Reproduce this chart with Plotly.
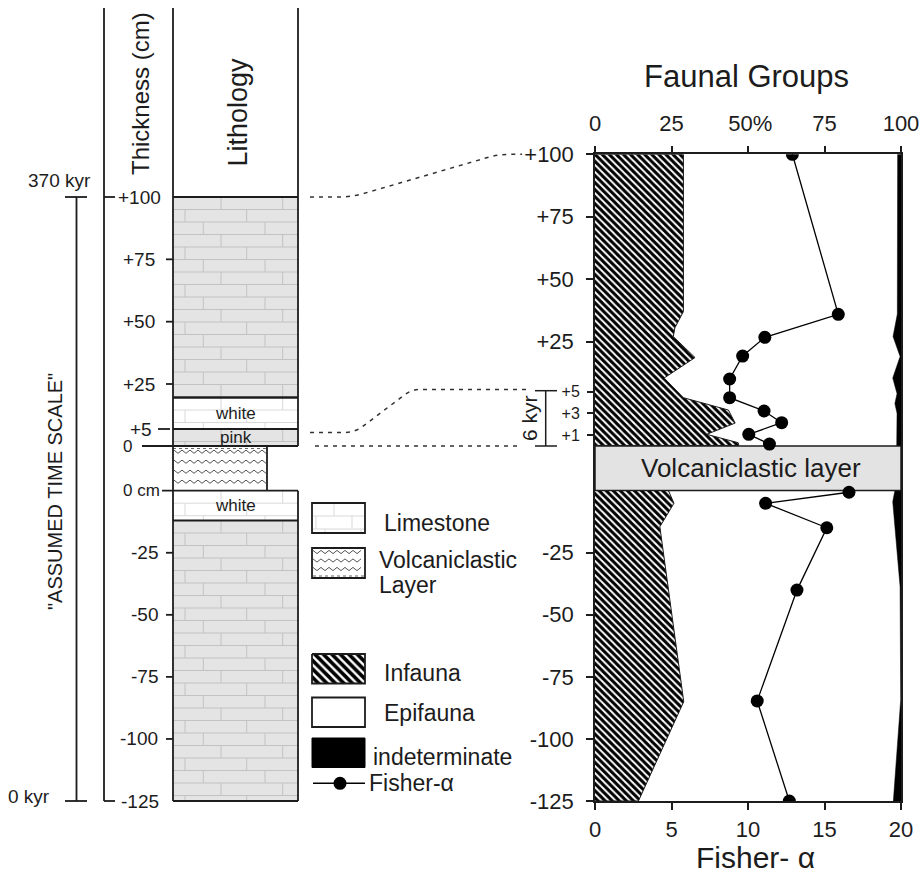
import numpy as np
import plotly.graph_objects as go

W, H = 924, 875
FONT = "Liberation Sans, Arial, Helvetica, sans-serif"
INK = "#1c1c1c"

# ---------------------------------------------------------------- data
# Fisher-alpha (depth in cm relative to the volcaniclastic layer)
fisher_depth_above = [100, 35.9, 26.7, 19.2, 10.0, 4.43, 3.21, 2.14, 1.07, 0.18]
fisher_alpha_above = [12.9, 15.9, 11.1, 9.65, 8.8, 8.8, 11.05, 12.2, 10.05, 11.4]
fisher_depth_below = [-0.7, -5.15, -15.0, -40.1, -84.7, -125]
fisher_alpha_below = [16.6, 11.15, 15.15, 13.2, 10.6, 12.7]

# Infauna (% of assemblage)
infauna_depth_above = [100, 37, 30.5, 27, 18.6, 10.4, 4.43, 3.3, 2.1, 1.07, 0.3, 0.05]
infauna_pct_above = [28.9, 28.9, 26.1, 25.6, 32.7, 22.6, 28.9, 43.6, 45.8, 36.5, 46.8, 47.0]
infauna_depth_below = [0, -5.15, -14.6, -85, -125]
infauna_pct_below = [24.0, 25.8, 21.2, 29.0, 14.2]

# indeterminate (% of assemblage, drawn from the 100 % side)
indet_depth_above = [100, 36, 29.7, 27, 19, 10.4, 4.8, 3.9, 3.0, 0]
indet_pct_above = [1.1, 1.2, 2.3, 2.6, 0.3, 2.7, 1.3, 2.0, 1.3, 1.4]
indet_depth_below = [0, -4.5, -38.7, -84.3, -125]
indet_pct_below = [2.0, 2.7, 0.3, 0.1, 2.5]

depth_ticks_above = [100, 75, 50, 25]
depth_labels_above = ["+100", "+75", "+50", "+25"]
depth_ticks_below = [-25, -50, -75, -100, -125]
depth_labels_below = ["-25", "-50", "-75", "-100", "-125"]
fine_ticks = [5, 3, 1]
fine_labels = ["+5", "+3", "+1"]
fisher_ticks = [0, 5, 10, 15, 20]
pct_ticks = [0, 25, 50, 75, 100]
pct_labels = ["0", "25", "\u200950%", "75", "100"]

# lithology column (top, bottom in cm, kind, label, section)
litho_layers = [
    (100, 19, "limestone", "", "above"),
    (19, 5, "white", "white", "above"),
    (5, 0, "pink", "pink", "above"),
    (0, -12, "white", "white", "below"),
    (-12, -125, "limestone", "", "below"),
]
litho_ticks_above = [100, 75, 50, 25, 5, 0]
litho_labels_above = ["+100", "+75", "+50", "+25", "+5", "0"]
litho_ticks_below = [0, -25, -50, -75, -100, -125]
litho_labels_below = ["0 cm", "-25", "-50", "-75", "-100", "-125"]

# ------------------------------------------------- broken depth scales
# depth (cm) -> vertical page position (px from top); the section is
# broken at the volcaniclastic layer and the top 5 cm are expanded.
R_ABOVE = ([0, 5, 100], [446, 391.5, 154.3])
R_BELOW = ([-125, 0], [801, 490.5])
L_ABOVE = ([0, 5, 25, 100], [446, 429, 384, 197])
L_BELOW = ([-125, 0], [801, 490.7])


def pos(scale, d):
    return np.interp(np.asarray(d, float), scale[0], scale[1]).tolist()


fig = go.Figure()

# ------------------------------------------------------- right panel
PANEL_TOP = pos(R_ABOVE, 100)
PANEL_BOT = pos(R_BELOW, -125)
band_top = pos(R_ABOVE, 0)
band_bot = pos(R_BELOW, 0)

hatch = dict(shape="\\", fgcolor="black", bgcolor="white", size=5, solidity=0.6)

for d, p, sc in [(infauna_depth_above, infauna_pct_above, R_ABOVE),
                 (infauna_depth_below, infauna_pct_below, R_BELOW)]:
    ys = pos(sc, d)
    fig.add_trace(go.Scatter(
        x=[0] + p + [0], y=[ys[0]] + ys + [ys[-1]], mode="lines",
        fill="toself", fillcolor="white", fillpattern=hatch,
        line=dict(color=INK, width=1), xaxis="x", yaxis="y",
        hoverinfo="skip", showlegend=False))

for d, p, sc in [(indet_depth_above, indet_pct_above, R_ABOVE),
                 (indet_depth_below, indet_pct_below, R_BELOW)]:
    ys = pos(sc, d)
    fig.add_trace(go.Scatter(
        x=[100] + [100 - v for v in p] + [100], y=[ys[0]] + ys + [ys[-1]],
        mode="lines", fill="toself", fillcolor="black",
        line=dict(color="black", width=0.5), xaxis="x", yaxis="y",
        hoverinfo="skip", showlegend=False))

# volcaniclastic band
fig.add_trace(go.Scatter(
    x=[0, 100, 100, 0, 0], y=[band_top, band_top, band_bot, band_bot, band_top],
    mode="lines", fill="toself", fillcolor="#e3e3e3",
    line=dict(color=INK, width=1.5), xaxis="x", yaxis="y",
    hoverinfo="skip", showlegend=False))

# Fisher-alpha
fig.add_trace(go.Scatter(
    x=fisher_alpha_above + [None] + fisher_alpha_below,
    y=pos(R_ABOVE, fisher_depth_above) + [None] + pos(R_BELOW, fisher_depth_below),
    mode="lines+markers", line=dict(color="black", width=1.3),
    marker=dict(size=13, color="black"), xaxis="x2", yaxis="y",
    connectgaps=False, hoverinfo="skip", showlegend=False))

# dummy trace so the fine-tick overlay axis is drawn
fig.add_trace(go.Scatter(x=[None], y=[None], xaxis="x", yaxis="y2",
                         showlegend=False, hoverinfo="skip"))

# ------------------------------------------------------ left column
shapes = []
annos = []


def line(x0, y0, x1, y1, w=1.8, color=INK, dash=None):
    s = dict(type="line", xref="x3", yref="y3", x0=x0, y0=y0, x1=x1, y1=y1,
             line=dict(color=color, width=w), layer="above")
    if dash:
        s["line"]["dash"] = dash
    shapes.append(s)


def rect(x0, y0, x1, y1, fill, lw=0, lc=INK, layer="below"):
    shapes.append(dict(type="rect", xref="x3", yref="y3", x0=x0, y0=y0,
                       x1=x1, y1=y1, fillcolor=fill, layer=layer,
                       line=dict(color=lc, width=lw)))


def text(x, y, s, size, xanchor="center", angle=0, color=INK, yanchor="middle",
         borderpad=1):
    annos.append(dict(x=x, y=y, xref="x3", yref="y3", text=s, showarrow=False,
                      xanchor=xanchor, yanchor=yanchor, textangle=angle,
                      borderpad=borderpad,
                      font=dict(size=size, color=color, family=FONT)))


def bricks(x0, x1, y0, y1, row=12.5, period=61.7, offsets=(48, 12, 30.3)):
    xs, ys = [], []
    y, i = y0, 0
    while y < y1 - 0.5:
        yb = min(y + row, y1)
        xv = x0 + offsets[i % 3]
        while xv < x1 - 1:
            xs += [xv, xv, None]
            ys += [y, yb, None]
            xv += period
        if yb < y1 - 0.5:
            xs += [x0, x1, None]
            ys += [yb, yb, None]
        y, i = yb, i + 1
    return xs, ys


def zigzag(x0, x1, y, period=8.0, amp=1.6):
    xs = np.arange(x0, x1 + 0.01, period / 2).tolist()
    ys = [y + (amp if k % 2 else -amp) for k in range(len(xs))]
    return xs, ys


LX0, LX1 = 173, 298
gray_x, gray_y, light_x, light_y = [], [], [], []
for top, bot, kind, lab, sec in litho_layers:
    sc = L_ABOVE if sec == "above" else L_BELOW
    y0, y1 = pos(sc, top), pos(sc, bot)
    fill = "white" if kind == "white" else "#e4e4e4"
    rect(LX0, y0, LX1, y1, fill)
    bx, by = bricks(LX0, LX1, y0, y1)
    if kind == "white":
        light_x += bx; light_y += by
    else:
        gray_x += bx; gray_y += by
    if lab:
        text((LX0 + LX1) / 2, (y0 + y1) / 2, lab, 17)
    line(LX0, y1, LX1, y1, w=1.8)

# limestone legend box bricks
lbx, lby = bricks(312, 365, 503, 533, row=13, period=36, offsets=(22, 4, 13))
light_x += lbx; light_y += lby

fig.add_trace(go.Scatter(x=gray_x, y=gray_y, mode="lines",
                         line=dict(color="#c2c2c2", width=1), xaxis="x3",
                         yaxis="y3", hoverinfo="skip", showlegend=False))
fig.add_trace(go.Scatter(x=light_x, y=light_y, mode="lines",
                         line=dict(color="#d9d9d9", width=1), xaxis="x3",
                         yaxis="y3", hoverinfo="skip", showlegend=False))

# volcaniclastic layer in the column + legend
v_top, v_bot = pos(L_ABOVE, 0), pos(L_BELOW, 0)
rect(LX0, v_top, 267, v_bot, "white")
zx, zy = [], []
for yy in [451.7, 461.7, 471.7, 481.7]:
    a, b = zigzag(LX0 + 1, 266, yy)
    zx += a + [None]; zy += b + [None]
for yy in [552, 560.5, 569]:
    a, b = zigzag(313, 364, yy)
    zx += a + [None]; zy += b + [None]
fig.add_trace(go.Scatter(x=zx, y=zy, mode="lines",
                         line=dict(color="#555555", width=1), xaxis="x3",
                         yaxis="y3", hoverinfo="skip", showlegend=False))
line(LX0, v_top + 2.5, 267, v_top + 2.5, w=1.2, color="#666", dash="dot")
line(313, 576, 364, 576, w=1.2, color="#666", dash="dot")
line(267, v_top, 267, v_bot, w=1.8)

# column frame
line(104, 8, 104, 801)
line(104, 801, 115, 801)
line(104, pos(L_ABOVE, 100), 115, pos(L_ABOVE, 100))
line(LX0, 8, LX0, 801)
line(LX1, 8, LX1, pos(L_ABOVE, 0))
line(LX1, v_bot, LX1, 801)
line(LX0, pos(L_ABOVE, 100), LX1, pos(L_ABOVE, 100))
line(LX0, pos(L_ABOVE, 19), LX1, pos(L_ABOVE, 19))
line(142, pos(L_ABOVE, 0), LX1, pos(L_ABOVE, 0))
line(162, v_bot, LX1, v_bot)

# thickness ticks + labels
for d, lab in zip(litho_ticks_above, litho_labels_above):
    y = pos(L_ABOVE, d)
    if d == 100:
        text(163, y, lab, 19, "right")
    elif d == 0:
        text(127, y, lab, 17)
    elif d == 5:
        line(158, y, 170, y)
        text(154, y, lab, 19, "right")
    else:
        line(166, y, LX0, y)
        text(157, y, lab, 19, "right")
for d, lab in zip(litho_ticks_below, litho_labels_below):
    y = pos(L_BELOW, d)
    if d == 0:
        text(162, y, lab, 17, "right")
    elif d == -125:
        text(161, y, lab, 19, "right")
    else:
        line(166, y, LX0, y)
        text(160, y, lab, 19, "right")

text(140, 94, "Thickness (cm)", 24, angle=-90)
text(237.5, 112, "Lithology", 27, angle=-90)

# assumed time scale
ts_top, ts_bot = pos(L_ABOVE, 100), pos(L_BELOW, -125)
line(65, ts_top, 87, ts_top)
line(65, ts_bot, 87, ts_bot)
line(76.5, ts_top, 76.5, ts_bot)
text(59, 180, "370 kyr", 19)
text(29, 796, "0 kyr", 19)
text(55, 492, "\"ASSUMED TIME SCALE\"", 20, angle=-90)

# connectors (dashed)
DASH = "4px,5px"
y100L, y100R = pos(L_ABOVE, 100), pos(R_ABOVE, 100)
y5L, y5R = pos(L_ABOVE, 5) + 3.5, pos(R_ABOVE, 5) - 2
y0L = pos(L_ABOVE, 0)
shapes.append(dict(type="path", xref="x3", yref="y3", layer="above",
                   path=f"M310,{y100L} L338,{y100L} Q350,{y100L} 362,{y100L-3} "
                        f"L490,{y100R+2.5} Q500,{y100R} 510,{y100R} L522,{y100R}",
                   line=dict(color="#333", width=1.5, dash=DASH)))
shapes.append(dict(type="path", xref="x3", yref="y3", layer="above",
                   path=f"M310,{y5L} L344,{y5L} Q352,{y5L} 360,{y5L-4} "
                        f"L405,{y5R+5} Q412,{y5R} 420,{y5R} L528,{y5R}",
                   line=dict(color="#333", width=1.5, dash=DASH)))
shapes.append(dict(type="line", xref="x3", yref="y3", layer="above",
                   x0=315, y0=y0L, x1=522, y1=y0L,
                   line=dict(color="#333", width=1.5, dash=DASH)))

# 6 kyr bracket
b_top, b_bot = pos(R_ABOVE, 5) - 0.8, pos(R_ABOVE, 0)
line(545.7, b_top, 545.7, b_bot, w=1.5)
line(535, b_top, 557, b_top, w=1.5)
line(535, b_bot, 557, b_bot, w=1.5)
text(529, 418, "6 kyr", 21, angle=-90)

# ----------------------------------------------------------- legend
rect(312, 503, 365, 533, "rgba(0,0,0,0)", lw=1.8, layer="above")
rect(312, 548, 365, 578, "rgba(0,0,0,0)", lw=1.8, layer="above")
rect(312, 548, 365, 578, "white")
rect(312, 503, 365, 533, "white")
fig.add_trace(go.Scatter(
    x=[312, 365, 365, 312, 312], y=[654, 654, 683.5, 683.5, 654], mode="lines",
    fill="toself", fillcolor="white",
    fillpattern=dict(shape="\\", fgcolor="black", bgcolor="white", size=6, solidity=0.6),
    line=dict(color=INK, width=1.8), xaxis="x3", yaxis="y3",
    hoverinfo="skip", showlegend=False))
rect(312, 697.5, 365, 727, "white", lw=1.8, layer="above")
rect(312, 738, 365, 767.5, "black", lw=1, lc="black", layer="above")
fig.add_trace(go.Scatter(x=[313, 365], y=[783.3, 783.3], mode="lines",
                         line=dict(color="black", width=1.5), xaxis="x3",
                         yaxis="y3", hoverinfo="skip", showlegend=False))
fig.add_trace(go.Scatter(x=[340], y=[783.3], mode="markers",
                         marker=dict(size=13, color="black"), xaxis="x3",
                         yaxis="y3", hoverinfo="skip", showlegend=False))
text(382, 522.7, "Limestone", 23, "left")
text(377, 560, "Volcaniclastic", 23, "left")
text(377, 585, "Layer", 23, "left")
text(382, 672.7, "Infauna", 23, "left")
text(382, 713.3, "Epifauna", 23, "left")
text(371, 756.7, "indeterminate", 23, "left")
text(367, 783, "Fisher-α", 23, "left")

# titles
text(746, 76, "Faunal Groups", 31)
text(755, 875, "Fisher- α", 30, yanchor="bottom", borderpad=0)
text(751, (band_top + band_bot) / 2, "Volcaniclastic layer", 26)

# ------------------------------------------------------------ layout
tickfont = dict(size=22, color=INK, family=FONT)
axis_common = dict(showgrid=False, zeroline=False, ticks="outside", ticklen=7,
                   tickwidth=1.5, tickcolor=INK, linecolor=INK, linewidth=1.5,
                   fixedrange=True, automargin=False)
ydom = [1 - PANEL_BOT / H, 1 - PANEL_TOP / H]
xdom = [595 / W, 901 / W]

fig.update_layout(
    template="none",
    width=W, height=H, autosize=False,
    margin=dict(l=0, r=0, t=0, b=0, pad=0, autoexpand=False),
    paper_bgcolor="white", plot_bgcolor="rgba(0,0,0,0)", showlegend=False,
    font=dict(family=FONT, color=INK),
    xaxis=dict(domain=xdom, range=[0, 100], side="top", anchor="y",
               tickvals=pct_ticks, ticktext=pct_labels, showline=True,
               tickfont=tickfont, ticklabelstandoff=6, **axis_common),
    xaxis2=dict(overlaying="x", side="bottom", anchor="y", range=[0, 20],
                tickvals=fisher_ticks, showline=True, tickfont=tickfont,
                ticklabelstandoff=1, **axis_common),
    yaxis=dict(domain=ydom, range=[PANEL_BOT, PANEL_TOP], anchor="x",
               tickvals=pos(R_ABOVE, depth_ticks_above) + pos(R_BELOW, depth_ticks_below),
               ticktext=depth_labels_above + depth_labels_below,
               showline=True, mirror=True, tickfont=tickfont,
               ticklabelstandoff=8, **axis_common),
    yaxis2=dict(overlaying="y", side="left", anchor="x",
                range=[PANEL_BOT, PANEL_TOP], tickvals=pos(R_ABOVE, fine_ticks),
                ticktext=fine_labels, showline=False,
                tickfont=dict(size=16, color=INK, family=FONT),
                ticklabelstandoff=4, **axis_common),
    xaxis3=dict(domain=[0, 1], range=[0, W], visible=False, anchor="y3",
                fixedrange=True, automargin=False),
    yaxis3=dict(domain=[0, 1], range=[H, 0], visible=False, anchor="x3",
                fixedrange=True, automargin=False),
    shapes=shapes, annotations=annos,
)

fig.write_html("out.html", config={"responsive": False, "displayModeBar": False})
